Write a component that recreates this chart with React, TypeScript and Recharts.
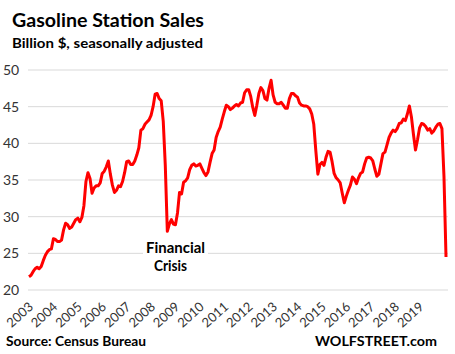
import { LineChart, Line, XAxis, YAxis, CartesianGrid } from 'recharts';

const START_YEAR = 2003;
const START_MONTH = 3; // first point is March 2003, last is April 2020

// gasoline station sales, billion $, seasonally adjusted (one row = 12 months from the first point)
const sales = [
  21.8, 22.0, 22.5, 22.9, 23.1, 22.9, 23.2, 24.0, 24.7, 25.2, 25.5, 25.6,
  27.0, 26.9, 26.6, 26.6, 26.8, 28.2, 29.1, 28.9, 28.4, 28.6, 29.1, 29.6,
  29.8, 29.3, 29.9, 31.5, 34.8, 36.0, 35.2, 33.2, 33.9, 34.2, 34.2, 34.6,
  35.9, 36.2, 36.8, 37.6, 35.8, 34.3, 33.3, 33.6, 34.2, 34.1, 34.8, 36.0,
  37.5, 37.6, 37.1, 37.1, 37.6, 38.4, 39.4, 41.8, 42.0, 42.6, 42.9, 43.2,
  43.8, 45.0, 46.7, 46.8, 46.1, 45.8, 43.0, 37.0, 28.0, 29.0, 29.6, 29.0,
  28.9, 30.5, 33.3, 33.1, 34.7, 34.9, 35.3, 36.4, 37.0, 37.2, 36.9, 37.0,
  37.2, 36.6, 36.0, 35.6, 36.1, 37.4, 38.6, 39.1, 40.8, 41.6, 42.2, 43.3,
  44.3, 45.2, 45.0, 44.6, 44.8, 45.1, 45.3, 45.1, 45.5, 45.6, 46.9, 47.3,
  47.3, 46.4, 44.9, 43.8, 45.2, 46.8, 47.6, 47.2, 46.1, 45.9, 47.5, 48.6,
  46.6, 45.6, 45.4, 45.4, 45.6, 45.2, 44.8, 44.8, 46.1, 46.8, 46.8, 46.5,
  46.3, 45.5, 45.2, 45.1, 45.1, 45.0, 44.7, 44.0, 42.6, 39.0, 35.8, 37.1,
  37.4, 37.0, 38.1, 38.9, 38.8, 37.5, 35.9, 35.3, 35.0, 34.6, 33.2, 31.9,
  32.8, 33.6, 34.3, 35.4, 35.1, 34.5, 35.3, 35.9, 36.1, 37.2, 38.0, 38.1,
  38.0, 37.6, 36.5, 35.5, 35.8, 37.2, 38.6, 38.8, 39.8, 40.8, 41.4, 41.8,
  41.6, 42.0, 42.7, 42.8, 43.3, 43.1, 44.0, 45.1, 43.6, 41.2, 39.1, 40.5,
  42.1, 42.7, 42.6, 42.3, 41.8, 42.0, 41.4, 41.7, 42.2, 42.6, 42.7, 42.0,
  35.5, 24.5,
];

const yearLabels = [
  '2003', '2004', '2005', '2006', '2007', '2008', '2009', '2010', '2011',
  '2012', '2013', '2014', '2015', '2016', '2017', '2018', '2019',
];
const yTicks = [20, 25, 30, 35, 40, 45, 50];

const data = sales.map((v, i) => {
  const m = START_MONTH - 1 + i;
  return {
    i,
    month: `${START_YEAR + Math.floor(m / 12)}-${String((m % 12) + 1).padStart(2, '0')}`,
    sales: v,
  };
});
const xTicks = yearLabels.map((_, k) => k * 12);

const FONT = 'Lato, "Open Sans", sans-serif';

const YTick = ({ y, payload }: any) => (
  <text x={3} y={y} dy={5} fontSize={14} fontFamily={FONT} fill="#333">
    {payload.value}
  </text>
);

const XTick = ({ x, index }: any) => {
  const ax = x + 5;
  const ay = 308;
  return (
    <text x={ax} y={ay} transform={`rotate(-42, ${ax}, ${ay})`} textAnchor="end" fontSize={13} fontFamily={FONT} fill="#333">
      {yearLabels[index]}
    </text>
  );
};

const App = () => {
  return (
    <div style={{ position: 'absolute', left: 0, top: 0, width: 455, height: 354, background: '#fff' }}>
      <LineChart width={455} height={354} data={data} margin={{ top: 70, right: 7, bottom: 24, left: 0 }}>
        <CartesianGrid vertical={false} stroke="#d9d9d9" />
        <XAxis
          type="number"
          dataKey="i"
          domain={[-0.49, 205.98]}
          allowDataOverflow
          ticks={xTicks}
          interval={0}
          tick={XTick}
          axisLine={false}
          tickLine={false}
          height={40}
        />
        <YAxis domain={[20, 50]} ticks={yTicks} interval={0} tick={YTick} axisLine={false} tickLine={false} width={28} />
        <Line
          type="linear"
          dataKey="sales"
          stroke="#ff0000"
          strokeWidth={3}
          strokeLinejoin="round"
          dot={false}
          isAnimationActive={false}
        />
      </LineChart>
      <svg width={455} height={354} style={{ position: 'absolute', left: 0, top: 0, pointerEvents: 'none' }}>
        <g fontFamily={FONT} fontWeight="bold" fill="#000">
          <text x={12} y={27} fontSize={19} textLength={192} lengthAdjust="spacingAndGlyphs">
            Gasoline Station Sales
          </text>
          <text x={12} y={48} fontSize={14} textLength={191} lengthAdjust="spacingAndGlyphs">
            Billion $, seasonally adjusted
          </text>
          <rect x={143} y={238} width={65} height={36} fill="#fff" />
          <text x={146} y={253} fontSize={15} textLength={59} lengthAdjust="spacingAndGlyphs">
            Financial
          </text>
          <text x={154} y={271} fontSize={15} textLength={33} lengthAdjust="spacingAndGlyphs">
            Crisis
          </text>
          <text x={6} y={346} fontSize={13} textLength={140} lengthAdjust="spacingAndGlyphs">
            Source: Census Bureau
          </text>
          <text x={315} y={346} fontSize={13} textLength={122} lengthAdjust="spacingAndGlyphs">
            WOLFSTREET.com
          </text>
        </g>
      </svg>
    </div>
  );
};

export default App;
